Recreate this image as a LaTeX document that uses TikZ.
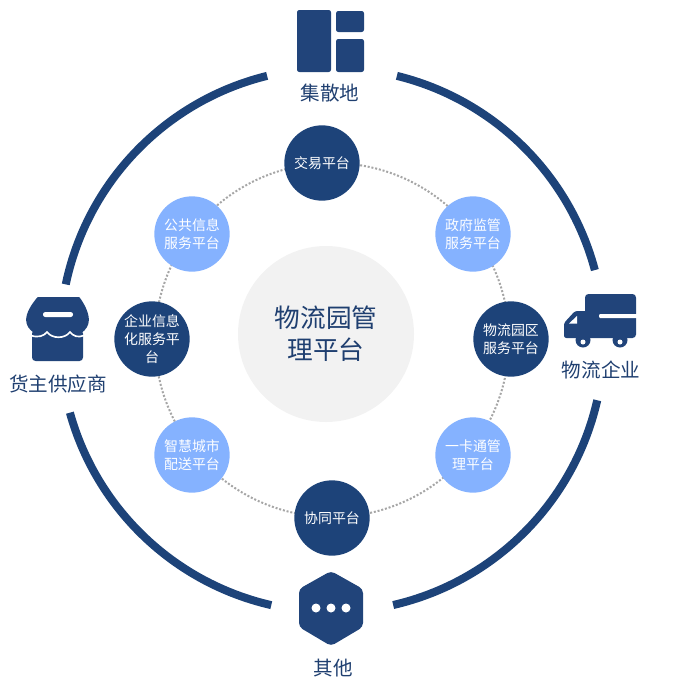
\documentclass[tikz,border=0pt]{standalone}
\usepackage{fontspec}
\setmainfont{Noto Sans CJK SC}
\usepackage{xcolor}
\usetikzlibrary{calc}
\definecolor{navy}{HTML}{1D4379}
\definecolor{iconblue}{HTML}{21447A}
\definecolor{lightblue}{HTML}{85B2FF}
\definecolor{labelblue}{HTML}{1F3F70}
\definecolor{ringgray}{HTML}{A6A6A6}
\tikzstyle{outerarc}=[navy,line width=0.24cm]
\tikzstyle{darknode}=[circle,fill=navy,text=white,minimum size=2.26cm,inner sep=0pt,align=center,font=\fontsize{11.9}{15.1}\selectfont]
\tikzstyle{lightnode}=[darknode,fill=lightblue]
\tikzstyle{iconlabel}=[text=labelblue,inner sep=0pt,font=\fontsize{16.7}{20}\selectfont]

\begin{document}
\begin{tikzpicture}[x=0.03cm,y=-0.03cm]
\useasboundingbox (0,0) rectangle (676,695);
\coordinate (c) at (332,340);
% outer ring
\foreach \a/\b in {-76.2/-14.9, 12.8/77, 102.9/164.5, -168.2/-103.8} {
 \draw[outerarc] ($(c)+(\a:272)$) arc[start angle=\a,end angle=\b,radius=272];
}
\draw[ringgray,line width=0.06cm,dash pattern=on 0.06cm off 0.055cm] (c) circle[radius=177];
% middle
\node[circle,fill=black!5,minimum size=5.28cm,inner sep=0pt,align=center,text=labelblue,font=\fontsize{21.9}{27.5}\selectfont] (center) at (326,334) {物流园管\\理平台};
% platforms
\foreach \n/\s/\x/\y/\t in {
 jiaoyi/darknode/322/163/交易平台,
 zhengfu/lightnode/473/234/政府监管\\服务平台,
 yuanqu/darknode/511/339/物流园区\\服务平台,
 yikatong/lightnode/473/455/一卡通管\\理平台,
 xietong/darknode/332/518/协同平台,
 zhihui/lightnode/192/455/智慧城市\\配送平台,
 qiye/darknode/152/339/企业信息\\化服务平\\台,
 gonggong/lightnode/192/234/公共信息\\服务平台} {
 \node[\s] (\n) at (\x,\y) {\t};
}
% building icon
\fill[iconblue,rounded corners=2] (297,10) rectangle (331,72);
\fill[iconblue,rounded corners=2] (336,11) rectangle (364,32);
\fill[iconblue,rounded corners=2] (336,39) rectangle (364,72);
\node[iconlabel] (jisan) at (330,93) {集散地};
% truck icon
\foreach \x in {583,620} {
 \fill[iconblue] (\x,340) circle[radius=7.5];
}
\fill[iconblue,rounded corners=3] (585,294) -- (636,294) -- (636,338) -- (585,338) -- cycle;
\fill[iconblue,rounded corners=2] (590,311) -- (575,311) -- (564,323) -- (564,338) -- (590,338) -- cycle;
\fill[white] (569,323.5) -- (577,316) -- (577,323.5) -- cycle;
\fill[white,rounded corners=1] (599,314) rectangle (638,318);
\foreach \x in {583,620} {
 \fill[white] (\x,342) circle[radius=2.5];
}
\node[iconlabel] (wuliu) at (601,370) {物流企业};
% store icon
\fill[iconblue,rounded corners=3] (32,330) rectangle (83,361);
\fill[iconblue,draw=iconblue,line width=1.5,line join=round] (38,298) -- (79,298) .. controls (84,305) and (88,313) .. (88,320)
 .. controls (88,330) and (76,338) .. (70,331) .. controls (65,339) and (52,339) .. (47,331)
 .. controls (40,338) and (27,330) .. (27,320) .. controls (27,313) and (32,305) .. (38,298) -- cycle;
\draw[white,line width=1.4] (31,335.5) .. controls (38,338) and (44,336) .. (47,332) .. controls (52,339) and (65,339) .. (70,332) .. controls (73,336) and (78,338) .. (84,335.5);
\fill[white,rounded corners=2] (43,312) rectangle (73,317);
\node[iconlabel] (huozhu) at (58,384) {货主供应商};
% hexagon icon
\fill[iconblue,rounded corners=3.5] (331,571) -- (363,589) -- (363,627) -- (331,646) -- (299,627) -- (299,589) -- cycle;
\foreach \x in {316,331,346} {
 \fill[white] (\x,608) circle[radius=4.5];
}
\node[iconlabel] (qita) at (333,668) {其他};
\end{tikzpicture}
\end{document}
